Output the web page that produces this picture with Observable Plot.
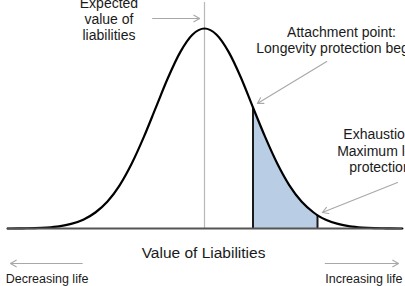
<!DOCTYPE html>
<html>
<head>
<meta charset="utf-8">
<script src="https://cdn.jsdelivr.net/npm/d3@7"></script>
<script src="https://cdn.jsdelivr.net/npm/@observablehq/plot@0.6"></script>
<style>
  html, body { margin: 0; padding: 0; background: #fff; }
  #chart svg { display: block; overflow: hidden; }
</style>
</head>
<body>
<div id="chart"></div>
<script>
// Value of liabilities (in standard deviations from the expected value) and relative likelihood
const liabilityValue = [-4.06, -4, -3.75, -3.5, -3.25, -3, -2.75, -2.5, -2.25, -2, -1.75, -1.5, -1.25, -1, -0.75, -0.5, -0.25, 0,
                        0.25, 0.5, 0.75, 1, 1.25, 1.5, 1.75, 2, 2.25, 2.33, 2.5, 2.75, 3, 3.25, 3.5, 3.75, 4, 4.08];
const likelihood     = [0, 0.000, 0.001, 0.002, 0.005, 0.011, 0.023, 0.044, 0.080, 0.135, 0.216, 0.325, 0.458, 0.607, 0.755, 0.882, 0.969, 1.0,
                        0.969, 0.882, 0.755, 0.605, 0.458, 0.325, 0.216, 0.135, 0.080, 0.066, 0.044, 0.023, 0.011, 0.005, 0.002, 0.001, 0.000, 0];

const expectedValue = 0;
const attachmentPoint = 1.0;
const exhaustionPoint = 2.33;

// Annotation texts and anchors (data units)
const labelText = ["Expected", "value of", "liabilities",
                   "Attachment point:", "Longevity protection begins",
                   "Exhaustion point:", "Maximum longevity", "protection ends",
                   "Value of Liabilities", "Decreasing life", "Increasing life"];
const labelX    = [-1.97, -1.97, -1.97, 2.825, 2.825, 3.97, 3.97, 3.97, -0.02, -4.10, 4.08];
const labelY    = [1.1225, 1.0425, 0.9625, 0.9775, 0.8975, 0.4675, 0.3825, 0.3025, -0.125, -0.252, -0.252];
const labelAnchor = ["middle", "middle", "middle", "middle", "middle", "middle", "middle", "middle", "middle", "start", "end"];
const labelSize = [14, 14, 14, 14, 14, 14, 14, 14, 15.5, 12.5, 12.5];

// Annotation arrows (data units)
const arrowX1 = [-1.07, 2.52, 3.98, -2.52, 2.49];
const arrowY1 = [1.05, 0.835, 0.23, -0.175, -0.175];
const arrowX2 = [-0.10, 1.09, 2.43, -4.0, 4.0];
const arrowY2 = [1.05, 0.625, 0.08, -0.175, -0.175];

const curve = liabilityValue.map((x, i) => ({x, y: likelihood[i]}));
const shaded = curve.filter(d => d.x >= attachmentPoint && d.x <= exhaustionPoint);
const edges = shaded.filter(d => d.x === attachmentPoint || d.x === exhaustionPoint);
const labels = labelText.map((t, i) => ({t, x: labelX[i], y: labelY[i], a: labelAnchor[i], s: labelSize[i]}));
const arrows = arrowX1.map((x1, i) => ({x1, y1: arrowY1[i], x2: arrowX2[i], y2: arrowY2[i]}));

const font = "'Liberation Sans', Arial, sans-serif";
const textMarks = labels.map(d => Plot.text([d], {
  x: "x", y: "y", text: "t", textAnchor: d.a, fontSize: d.s, fill: "#1a1a1a",
  fontFamily: font
}));

const chart = Plot.plot({
  width: 405,
  height: 286,
  x: {domain: [-4, 4], range: [10, 398], axis: null},
  y: {domain: [0, 1], range: [228, 28], axis: null},
  style: {fontFamily: font, background: "#fff"},
  marks: [
    Plot.areaY(shaded, {x: "x", y: "y", fill: "#b9cde5", curve: "monotone-x"}),
    Plot.ruleX([expectedValue], {y1: 0, y2: 1.13, stroke: "#b8b8b8", strokeWidth: 1.2}),
    Plot.ruleX(edges, {x: "x", y1: 0, y2: "y", stroke: "#1a1a1a", strokeWidth: 2}),
    Plot.line(curve, {x: "x", y: "y", stroke: "#000", strokeWidth: 2.2, curve: "monotone-x"}),
    Plot.ruleY([0], {x1: liabilityValue[0], x2: liabilityValue[liabilityValue.length - 1], stroke: "#555", strokeWidth: 2}),
    Plot.arrow(arrows, {x1: "x1", y1: "y1", x2: "x2", y2: "y2", stroke: "#a8a8a8", strokeWidth: 1.1, headLength: 9}),
    ...textMarks
  ]
});
document.getElementById("chart").appendChild(chart);
</script>
</body>
</html>
